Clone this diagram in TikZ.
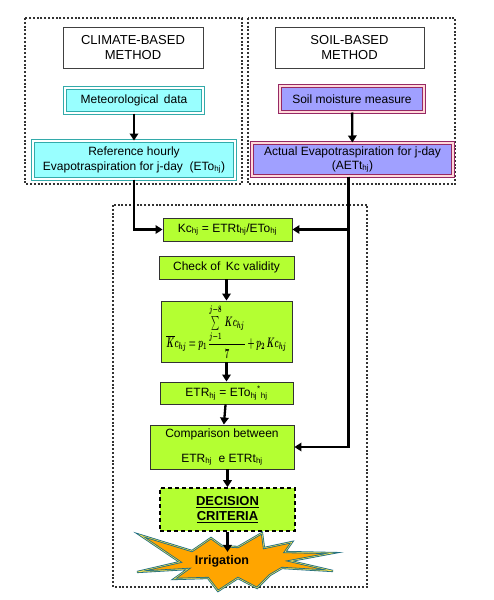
\documentclass[tikz,border=0pt]{standalone}
\usepackage{amsmath}
\usepackage{graphicx}
\usepackage{fontspec}
\setmainfont{Liberation Sans}
\usetikzlibrary{arrows.meta}
\definecolor{cyanfill}{RGB}{153,255,255}
\definecolor{cyanedge}{RGB}{51,170,170}
\definecolor{purpfill}{RGB}{160,160,255}
\definecolor{purpedge}{RGB}{150,40,100}
\definecolor{greenfill}{RGB}{180,255,50}
\definecolor{starfill}{RGB}{255,165,0}
\definecolor{staredge}{RGB}{30,110,130}
\definecolor{staryel}{RGB}{255,230,80}
\newsavebox{\kcbox}
\begin{document}
\sbox{\kcbox}{\boldmath\resizebox{120pt}{43pt}{$\displaystyle \overline{K}c_{hj}=p_{1}\,\frac{\sum\limits_{j-1}^{j-8}\,Kc_{hj}}{7}+p_{2}\,Kc_{hj}$}}%
\begin{tikzpicture}[x=1pt,y=-1pt,
  txt/.style={font=\fontsize{12}{14}\selectfont, align=center, inner sep=0pt},
  frame/.style={draw=black!80, dash pattern=on 2pt off 1.8pt, line width=1.2pt},
  plainbox/.style={txt, draw=black!75, fill=white, line width=0.9pt},
  cyanbox/.style={txt, draw=cyanedge, double=white, double distance=1.2pt, line width=1pt, fill=cyanfill},
  purpbox/.style={txt, draw=purpedge, double=pink!60, double distance=1.2pt, line width=1pt, fill=purpfill},
  greenbox/.style={txt, draw=black!80, line width=0.9pt, fill=greenfill},
  decbox/.style={txt, draw=black, line width=1.6pt, dash pattern=on 4pt off 3pt, fill=greenfill, font=\fontsize{13}{15}\selectfont\bfseries},
  arr/.style={line width=2.3pt, -{Triangle[length=7pt,width=8.5pt]}},
]
\useasboundingbox (0,0) rectangle (494,600);
% frames
\draw[frame] (25,18) rectangle (242,184);
\draw[frame] (248,18) rectangle (455,184);
\draw[frame] (113,205) rectangle (367,587);
% top nodes
\node[plainbox, minimum width=140pt, minimum height=41pt, font=\fontsize{13}{14.5}\selectfont] (climate) at (133,47.5) {CLIMATE-BASED\\METHOD};
\node[plainbox, minimum width=149pt, minimum height=41pt, font=\fontsize{13}{14.5}\selectfont] (soil) at (349.5,47.5) {SOIL-BASED\\METHOD};
\node[cyanbox, minimum width=138pt, minimum height=25pt] (met) at (134,100.5) {Meteorological\,\ data};
\node[purpbox, minimum width=144pt, minimum height=26pt] (soilm) at (352,99) {Soil moisture measure};
\node[cyanbox, minimum width=202pt, minimum height=38pt, font=\fontsize{12}{15}\selectfont] (ref) at (134,160) {Reference hourly\\Evapotraspiration for j-day\ \ (ETo\textsubscript{hj})};
\node[purpbox, minimum width=201pt, minimum height=33pt, font=\fontsize{12}{14}\selectfont] (aet) at (352.5,159.5) {Actual Evapotraspiration for j-day\\(AETt\textsubscript{hj})};
% green chain
\node[greenbox, minimum width=129pt, minimum height=23pt] (kc) at (227.5,229.5) {Kc\textsubscript{hj} = ETRt\textsubscript{hj}/ETo\textsubscript{hj}};
\node[greenbox, minimum width=135pt, minimum height=23pt] (check) at (226.5,267.5) {Check of\,\ Kc validity};
\node[greenbox, minimum width=131pt, minimum height=61pt] (kcavg) at (226.5,331.5) {\usebox{\kcbox}};
\node[greenbox, minimum width=133pt, minimum height=22pt] (etr) at (226.5,393) {ETR\textsubscript{hj} = ETo\textsubscript{hj}\textsuperscript{*}\textsubscript{hj}};
\node[greenbox, minimum width=144pt, minimum height=44pt, font=\fontsize{12}{14}\selectfont] (comp) at (222,447) {Comparison between\\[11pt]ETR\textsubscript{hj}\ \ e ETRt\textsubscript{hj}};
\node[decbox, minimum width=135pt, minimum height=43pt] (dec) at (227.5,509.5) {\underline{DECISION}\\\underline{CRITERIA}};
% star
\draw[draw=staredge, line width=2.2pt, fill=starfill, line join=miter]
 (140,535) -- (192,551) -- (211,538) -- (222,546) -- (238,547) -- (262,533) -- (264,548)
 -- (292,542) -- (285,552) -- (333,553) -- (290,561) -- (333,571) -- (282,568) -- (270,575)
 -- (257,588) -- (238,578) -- (218,591) -- (208,578) -- (174,579) -- (188,569) -- (137,572)
 -- (180,562) -- cycle;
\draw[draw=staryel, line width=0.5pt, line join=miter]
 (140,535) -- (192,551) -- (211,538) -- (222,546) -- (238,547) -- (262,533) -- (264,548)
 -- (292,542) -- (285,552) -- (333,553) -- (290,561) -- (333,571) -- (282,568) -- (270,575)
 -- (257,588) -- (238,578) -- (218,591) -- (208,578) -- (174,579) -- (188,569) -- (137,572)
 -- (180,562) -- cycle;
\node[txt, font=\fontsize{12.5}{14}\selectfont\bfseries, inner sep=3pt] (irr) at (222,561) {Irrigation};
% connectors
\draw[arr] (met) -- (ref);
\draw[arr] (soilm) -- (aet);
\draw[arr] (ref.south) |- (kc.west);
\coordinate (aj) at ([xshift=-4pt]aet.south);
\draw[arr] (aj) |- (kc.east);
\draw[arr] (aj) |- (comp.east);
\draw[arr] (check) -- (kcavg);
\draw[arr] (kcavg) -- (etr);
\draw[arr] (etr) -- (comp);
\draw[arr] (comp.south -| dec.north) -- (dec.north);
\draw[arr] (dec.south) -- (dec.south |- irr.north);
\end{tikzpicture}
\end{document}
